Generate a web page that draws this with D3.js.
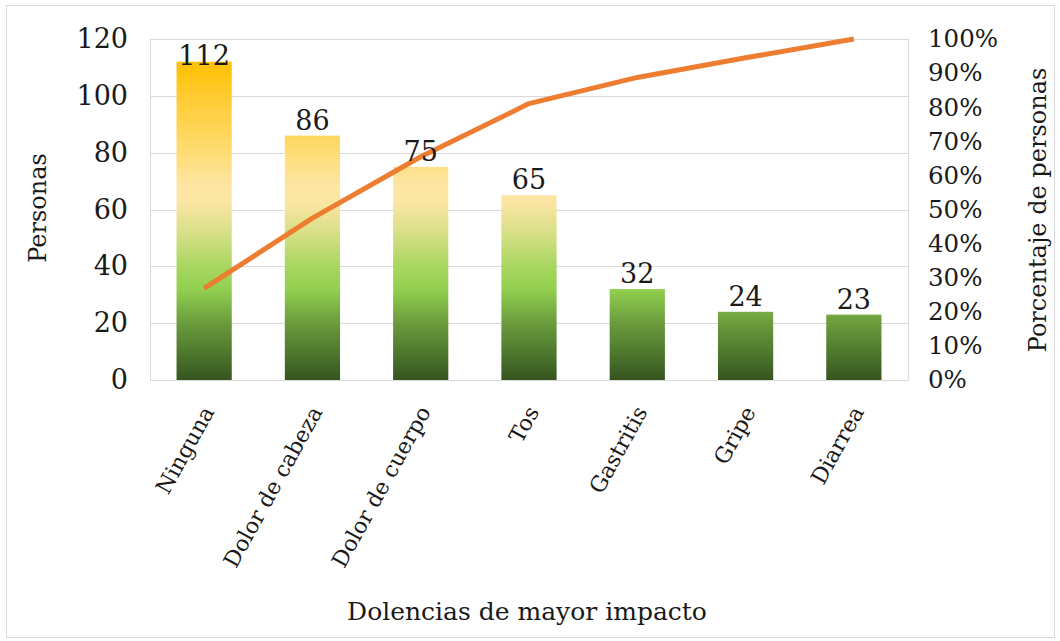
<!DOCTYPE html>
<html>
<head>
<meta charset="utf-8">
<script src="https://cdn.jsdelivr.net/npm/d3@7"></script>
<style>
  html, body { margin: 0; padding: 0; background: #fff; }
  svg text { font-family: "DejaVu Serif", serif; fill: #1a1a1a; }
</style>
</head>
<body>
<svg id="chart" width="1060" height="641"></svg>
<script>
const categories = ["Ninguna", "Dolor de cabeza", "Dolor de cuerpo", "Tos", "Gastritis", "Gripe", "Diarrea"];
const personas = [112, 86, 75, 65, 32, 24, 23];
const leftTicks = [0, 20, 40, 60, 80, 100, 120];
const rightTicks = [0, 0.1, 0.2, 0.3, 0.4, 0.5, 0.6, 0.7, 0.8, 0.9, 1.0];

const total = d3.sum(personas);
const cumulative = d3.cumsum(personas).map(v => v / total);

const svg = d3.select("#chart");
const plot = { left: 150, right: 908, top: 39, bottom: 380 };

// outer chart border
svg.append("rect").attr("x", 6.5).attr("y", 5.5).attr("width", 1048).attr("height", 632)
  .attr("fill", "#fff").attr("stroke", "#d9d9d9").attr("stroke-width", 1);

const x = d3.scaleBand().domain(categories).range([plot.left, plot.right]).paddingInner(0.49).paddingOuter(0.245);
const y = d3.scaleLinear().domain([0, 120]).range([plot.bottom, plot.top]);
const yP = d3.scaleLinear().domain([0, 1]).range([plot.bottom, plot.top]);

// gradient in user space across the value axis
const defs = svg.append("defs");
const grad = defs.append("linearGradient").attr("id", "barGrad")
  .attr("gradientUnits", "userSpaceOnUse")
  .attr("x1", 0).attr("x2", 0).attr("y1", y(0)).attr("y2", y(120));
const stops = [
  [0, "#365421"], [10, "#4f7a2e"], [20, "#6a9b3c"], [32, "#92d050"],
  [40, "#a8d660"], [50, "#d0de82"], [62, "#fbe5a2"], [68, "#fde6a4"],
  [86, "#ffd75e"], [100, "#ffcb30"], [112, "#ffc000"], [120, "#ffbd00"]
];
grad.selectAll("stop").data(stops).join("stop")
  .attr("offset", d => d[0] / 120).attr("stop-color", d => d[1]);

// gridlines
const gGrid = svg.append("g");
gGrid.selectAll("line").data(leftTicks).join("line")
  .attr("x1", plot.left).attr("x2", plot.right)
  .attr("y1", d => Math.round(y(d)) + 0.5).attr("y2", d => Math.round(y(d)) + 0.5)
  .attr("stroke", "#d9d9d9").attr("stroke-width", 1);
gGrid.append("line").attr("x1", plot.left + 0.5).attr("x2", plot.left + 0.5)
  .attr("y1", plot.top).attr("y2", plot.bottom).attr("stroke", "#d9d9d9");
gGrid.append("line").attr("x1", plot.right + 0.5).attr("x2", plot.right + 0.5)
  .attr("y1", plot.top).attr("y2", plot.bottom).attr("stroke", "#d9d9d9");

// bars
svg.append("g").selectAll("rect").data(personas).join("rect")
  .attr("x", (d, i) => x(categories[i]))
  .attr("width", x.bandwidth())
  .attr("y", d => y(d))
  .attr("height", d => y(0) - y(d))
  .attr("fill", "url(#barGrad)");

// left axis
const axL = d3.axisLeft(y).tickValues(leftTicks).tickSize(0).tickPadding(22).tickFormat(d3.format("d"));
const gL = svg.append("g").attr("transform", `translate(${plot.left},0)`).call(axL);
gL.select(".domain").remove();
gL.selectAll("text").style("font-size", "27px").attr("font-family", "DejaVu Serif").attr("fill", "#1a1a1a");

// right axis
const axR = d3.axisRight(yP).tickValues(rightTicks).tickSize(0).tickPadding(20).tickFormat(d3.format(".0%"));
const gR = svg.append("g").attr("transform", `translate(${plot.right},0)`).call(axR);
gR.select(".domain").remove();
gR.selectAll("text").style("font-size", "24.5px").attr("font-family", "DejaVu Serif").attr("fill", "#1a1a1a");

// bottom axis labels
const axB = d3.axisBottom(x).tickSize(0).tickPadding(0);
const gB = svg.append("g").attr("transform", `translate(0,${plot.bottom})`).call(axB);
gB.select(".domain").remove();
gB.selectAll("text")
  .style("font-size", "22px").attr("font-family", "DejaVu Serif").attr("fill", "#1a1a1a")
  .attr("text-anchor", "end")
  .attr("dy", "0.35em").attr("y", 0)
  .attr("transform", `translate(4,28) rotate(-61)`);

// cumulative line
const line = d3.line()
  .x((d, i) => x(categories[i]) + x.bandwidth() / 2)
  .y(d => yP(d));
svg.append("path").datum(cumulative)
  .attr("d", line).attr("fill", "none")
  .attr("stroke", "#ed7d31").attr("stroke-width", 5).attr("stroke-linejoin", "round");

// data labels
svg.append("g").selectAll("text").data(personas).join("text")
  .attr("x", (d, i) => x(categories[i]) + x.bandwidth() / 2)
  .attr("y", d => Math.max(y(d) - 6, plot.top + 26))
  .attr("text-anchor", "middle")
  .style("font-size", "27px")
  .text(d => d);

// axis titles
svg.append("text").attr("transform", `translate(46,208) rotate(-90)`)
  .attr("text-anchor", "middle").style("font-size", "24px").text("Personas");
svg.append("text").attr("transform", `translate(1046,210) rotate(-90)`)
  .attr("text-anchor", "middle").style("font-size", "24px").text("Porcentaje de personas");
svg.append("text").attr("x", (plot.left + plot.right) / 2 - 2).attr("y", 620)
  .attr("text-anchor", "middle").style("font-size", "25px").text("Dolencias de mayor impacto");
</script>
</body>
</html>
